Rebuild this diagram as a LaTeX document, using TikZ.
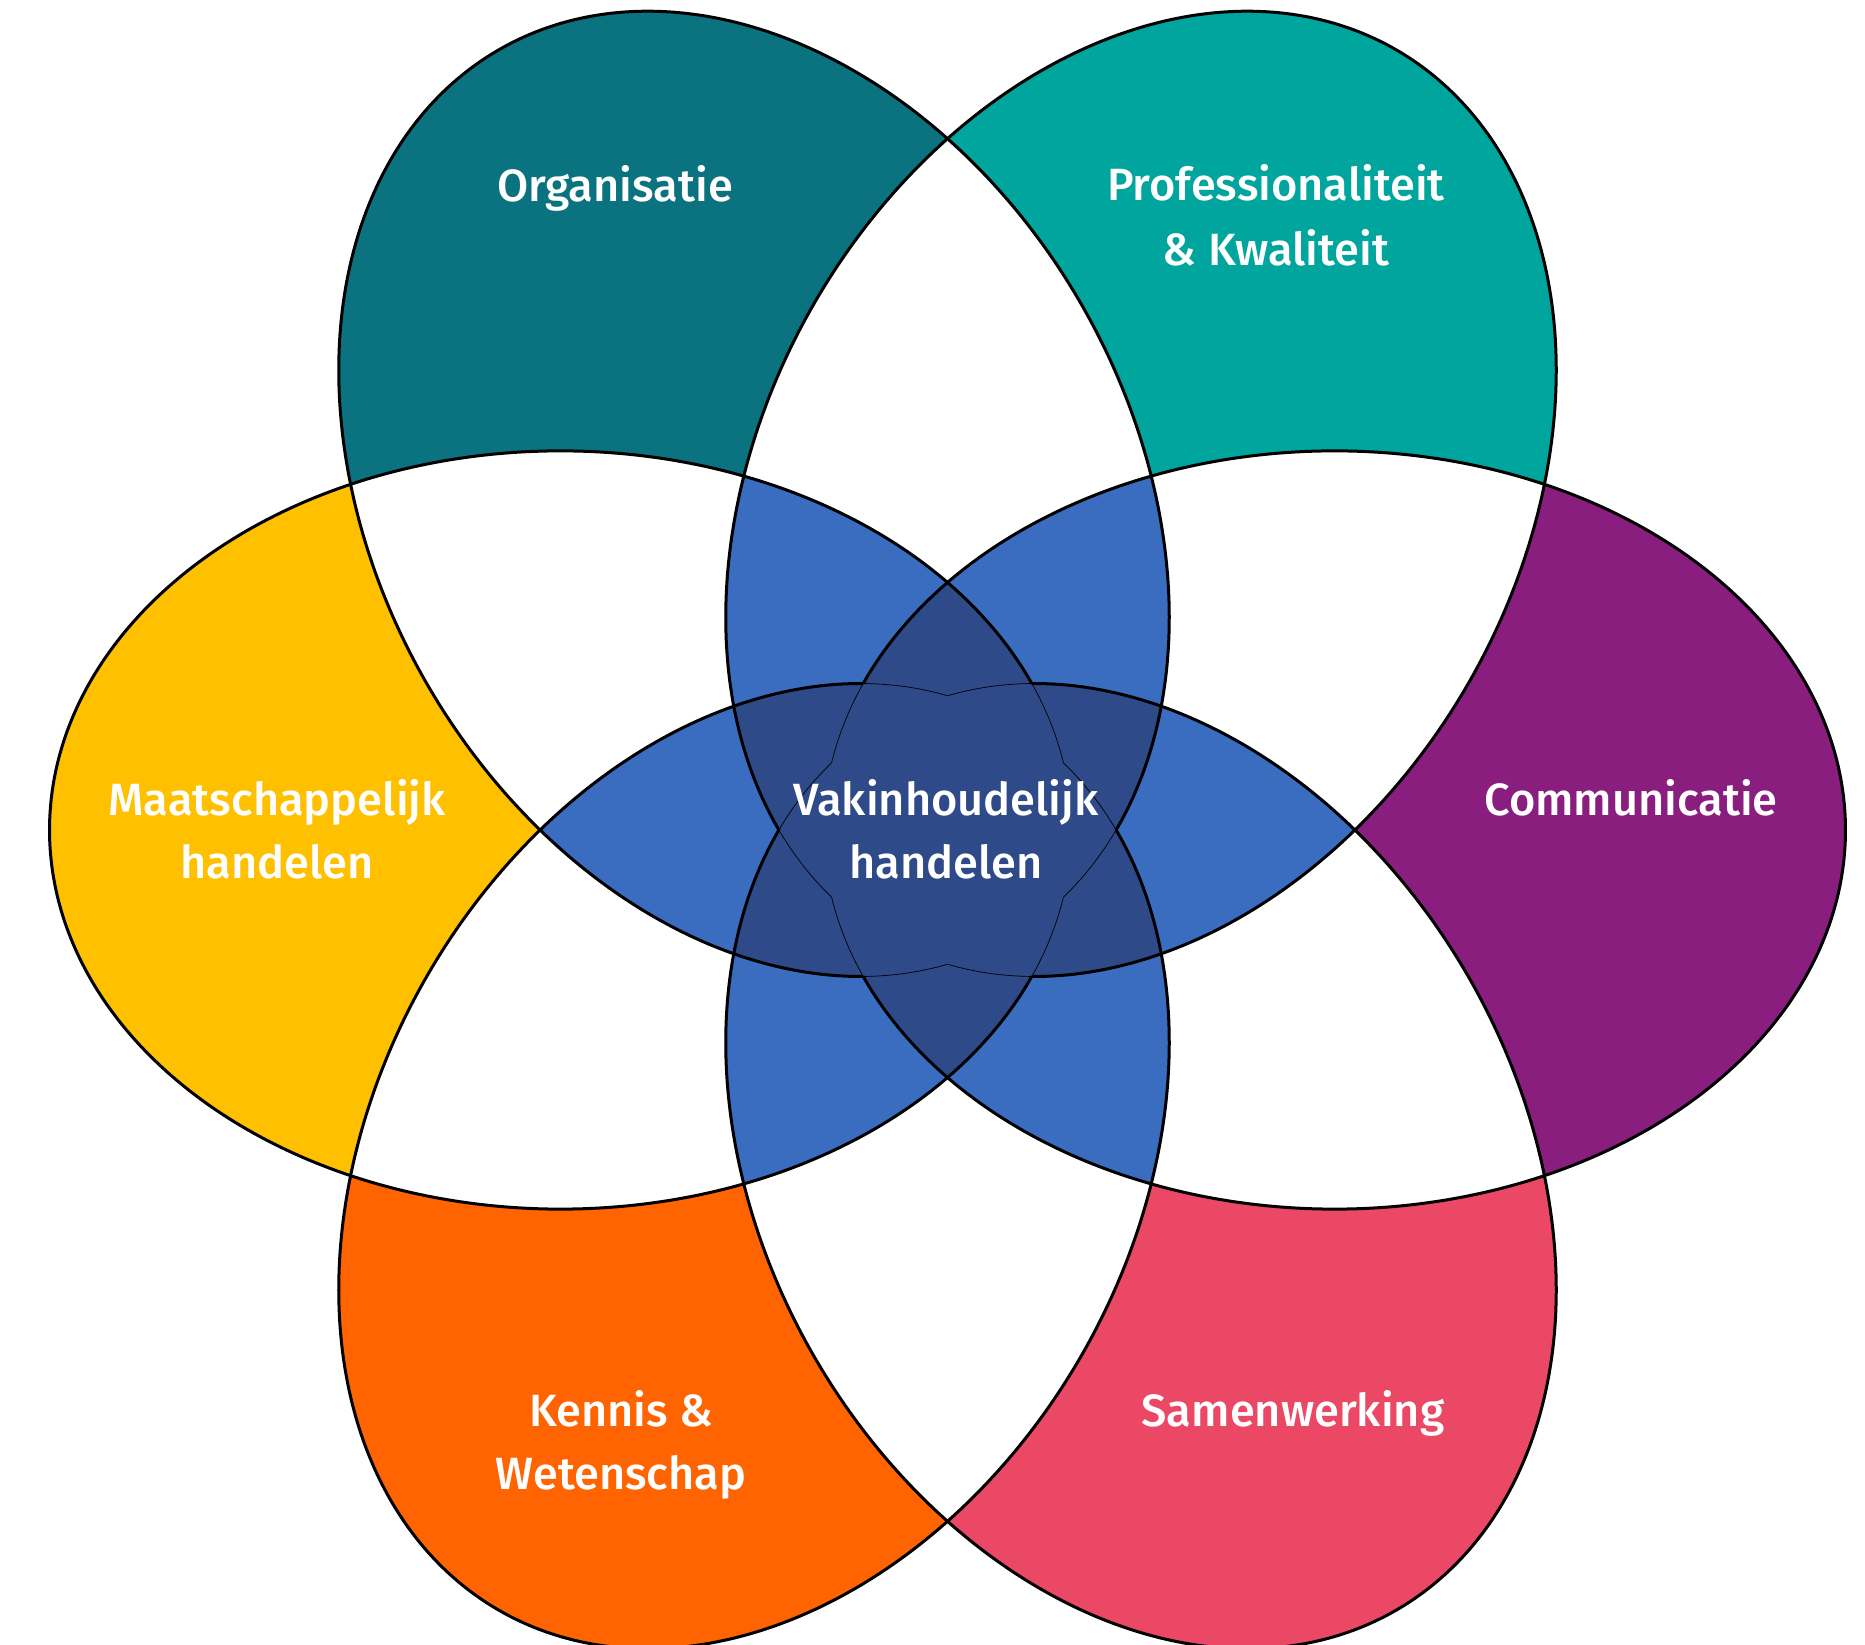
\documentclass[tikz,border=0pt]{standalone}
\usepackage{fontspec}
\IfFontExistsTF{Fira Sans Medium}{\setmainfont{Fira Sans Medium}}{\setmainfont{Fira Sans}}
\definecolor{corg}{HTML}{0B7380}
\definecolor{cprof}{HTML}{00A59D}
\definecolor{ccom}{HTML}{8A1E7E}
\definecolor{csam}{HTML}{EB4865}
\definecolor{cken}{HTML}{FF6400}
\definecolor{cmaat}{HTML}{FFC000}
\definecolor{cblue}{HTML}{3A6DC0}
\definecolor{cdark}{HTML}{2F4A89}
\newcommand\Ell{(387,0) ellipse [x radius=511, y radius=378]}
\begin{document}
\begin{tikzpicture}[x=0.5pt,y=0.5pt,
  lbl/.style={text=white, anchor=base, inner sep=0pt, font=\fontsize{22.6}{30}\selectfont},
  thickline/.style={line width=1.5pt, line join=round},
  thinline/.style={line width=0.35pt}]
\useasboundingbox (0,0) rectangle (1865,1645);
\begin{scope}[shift={(947.5,815)}, yscale=1.003]
  % single petals
  \fill[ccom,  rotate=0]   \Ell;
  \fill[cprof, rotate=60]  \Ell;
  \fill[corg,  rotate=120] \Ell;
  \fill[cmaat, rotate=180] \Ell;
  \fill[cken,  rotate=240] \Ell;
  \fill[csam,  rotate=300] \Ell;
  % two-fold overlaps: white
  \foreach \i in {0,...,5}{\foreach \j in {\i,...,5}{\ifnum\j>\i
    \begin{scope}\clip[rotate=60*\i] \Ell; \fill[white, rotate=60*\j] \Ell;\end{scope}
  \fi}}
  % three-fold overlaps: blue
  \foreach \i in {0,...,5}{\foreach \j in {\i,...,5}{\foreach \k in {\j,...,5}{%
    \ifnum\j>\i\ifnum\k>\j
    \begin{scope}\clip[rotate=60*\i] \Ell; \clip[rotate=60*\j] \Ell; \fill[cblue, rotate=60*\k] \Ell;\end{scope}
    \fi\fi}}}
  % four-fold and more: dark blue
  \foreach \i in {0,...,5}{\foreach \j in {\i,...,5}{\foreach \k in {\j,...,5}{\foreach \m in {\k,...,5}{%
    \ifnum\j>\i\ifnum\k>\j\ifnum\m>\k
    \begin{scope}\clip[rotate=60*\i] \Ell; \clip[rotate=60*\j] \Ell; \clip[rotate=60*\k] \Ell; \fill[cdark, rotate=60*\m] \Ell;\end{scope}
    \fi\fi\fi}}}}
  % outlines
  \foreach \ang in {0,60,...,300}{
    \draw[thickline, rotate=\ang] plot[domain=-157.3:157.3, samples=240, smooth] ({387+511*cos(\x)},{378*sin(\x)});
    \draw[thinline, rotate=\ang] plot[domain=157.3:169.8, samples=20, smooth] ({387+511*cos(\x)},{378*sin(\x)});
    \draw[thinline, rotate=\ang] plot[domain=190.2:202.7, samples=20, smooth] ({387+511*cos(\x)},{378*sin(\x)});
  }
\end{scope}
\node[lbl] (t1)  at (615,1443) {Organisatie};
\node[lbl] (t2a) at (1276,1444) {Professionaliteit};
\node[lbl] (t2b) at (1276,1379) {\& Kwaliteit};
\node[lbl] (t3)  at (1631,829) {Communicatie};
\node[lbl] (t4)  at (1293,218) {Samenwerking};
\node[lbl] (t5a) at (621,218) {Kennis \&};
\node[lbl] (t5b) at (621,155) {Wetenschap};
\node[lbl] (t6a) at (277,829) {Maatschappelijk};
\node[lbl] (t6b) at (277,766) {handelen};
\node[lbl] (t7a) at (946,829) {Vakinhoudelijk};
\node[lbl] (t7b) at (946,766) {handelen};
\end{tikzpicture}
\end{document}
